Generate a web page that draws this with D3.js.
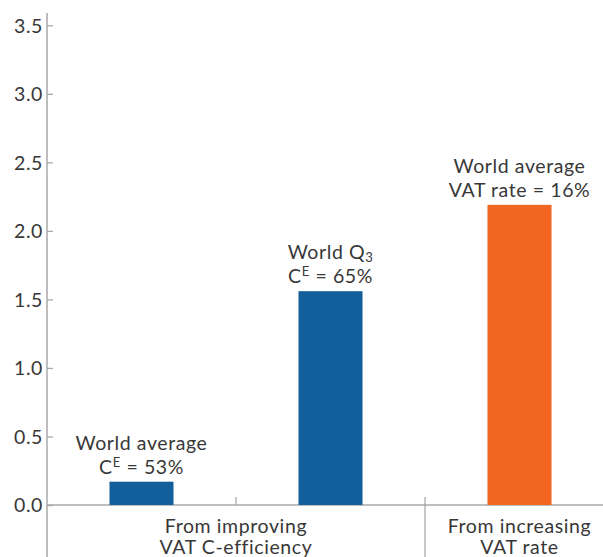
<!DOCTYPE html>
<html><head><meta charset="utf-8">
<script src="https://cdn.jsdelivr.net/npm/d3@7"></script>
<style>
html,body{margin:0;padding:0;background:#fff;}
svg{display:block;font-family:Lato,"Open Sans",sans-serif;}
</style></head>
<body><svg id="c" width="603" height="557"></svg>
<script>
const bars = ["b1","b2","b3"];
const values = [0.17, 1.56, 2.19];
const barColors = ["#135f9b","#135f9b","#f26522"];
const annotLine1 = [["World average"],["World Q","3"],["World average"]];
const annotLine2 = [["C","E"," = 53%"],["C","E"," = 65%"],["VAT rate = 16%"]];
const yTicks = [0,0.5,1,1.5,2,2.5,3,3.5];
const groups = [
  {label:["From improving","VAT C-efficiency"], from:0, to:1},
  {label:["From increasing","VAT rate"], from:2, to:2}
];

const svg = d3.select("#c");
const x0 = 47, yTop = 13;
const x = d3.scaleBand().domain(bars).range([47, 614]).paddingInner(0).paddingOuter(0);
const y = d3.scaleLinear().domain([0,3.5]).range([505, 25.3]);
const barW = 64;
const axisCol = "#a9a9a9", textCol = "#383838";
const fs = 19.5, ls = 0.6;

// y axis
const ya = svg.append("g").attr("transform",`translate(${x0},0)`)
  .call(d3.axisRight(y).tickValues(yTicks).tickFormat(d3.format(".1f")).tickSize(6).tickSizeOuter(0));
ya.select(".domain").remove();
ya.selectAll(".tick line").attr("stroke",axisCol).attr("stroke-width",1.3);
ya.selectAll(".tick text").attr("x",-4).attr("text-anchor","end").attr("fill",textCol)
  .attr("font-size",fs).attr("font-family","Lato,sans-serif").attr("letter-spacing",ls).attr("dy","0.35em");
svg.append("line").attr("x1",x0).attr("x2",x0).attr("y1",yTop).attr("y2",557)
  .attr("stroke",axisCol).attr("stroke-width",1.5);

// x axis line
svg.append("line").attr("x1",x0).attr("x2",603).attr("y1",y(0)).attr("y2",y(0))
  .attr("stroke",axisCol).attr("stroke-width",1.5);
// band boundaries: minor tick and group separator
svg.append("line").attr("x1",x("b2")).attr("x2",x("b2")).attr("y1",y(0)-8).attr("y2",y(0))
  .attr("stroke",axisCol).attr("stroke-width",1.3);
svg.append("line").attr("x1",x("b3")).attr("x2",x("b3")).attr("y1",y(0)-8).attr("y2",557)
  .attr("stroke",axisCol).attr("stroke-width",1.3);

// bars
svg.selectAll("rect.bar").data(bars).join("rect").attr("class","bar")
  .attr("x",d=>x(d)+x.bandwidth()/2-barW/2).attr("width",barW)
  .attr("y",(d,i)=>y(values[i])).attr("height",(d,i)=>y(0)-y(values[i]))
  .attr("fill",(d,i)=>barColors[i]);

// annotations
bars.forEach((b,i)=>{
  const cx = x(b)+x.bandwidth()/2;
  const top = y(values[i]);
  const t1 = svg.append("text").attr("x",cx).attr("y",top-32).attr("text-anchor","middle")
    .attr("fill",textCol).attr("font-size",fs).attr("letter-spacing",ls);
  const l1 = annotLine1[i];
  t1.append("tspan").text(l1[0]);
  if(l1[1]) t1.append("tspan").attr("font-size",13).attr("dy",3).text(l1[1]);
  const t2 = svg.append("text").attr("x",cx).attr("y",top-8).attr("text-anchor","middle")
    .attr("fill",textCol).attr("font-size",fs).attr("letter-spacing",ls);
  const l2 = annotLine2[i];
  t2.append("tspan").text(l2[0]);
  if(l2.length>1){
    t2.append("tspan").attr("font-size",13).attr("dy",-7).text(l2[1]);
    t2.append("tspan").attr("dy",7).text(l2[2]);
  }
});

// group labels
groups.forEach(g=>{
  const a = x(bars[g.from]), b = x(bars[g.to])+x.bandwidth();
  const cx = (a+b)/2;
  g.label.forEach((s,k)=>{
    svg.append("text").attr("x",cx).attr("y",533+k*20.5).attr("text-anchor","middle")
      .attr("fill",textCol).attr("font-size",fs).attr("letter-spacing",ls).text(s);
  });
});
</script></body></html>
